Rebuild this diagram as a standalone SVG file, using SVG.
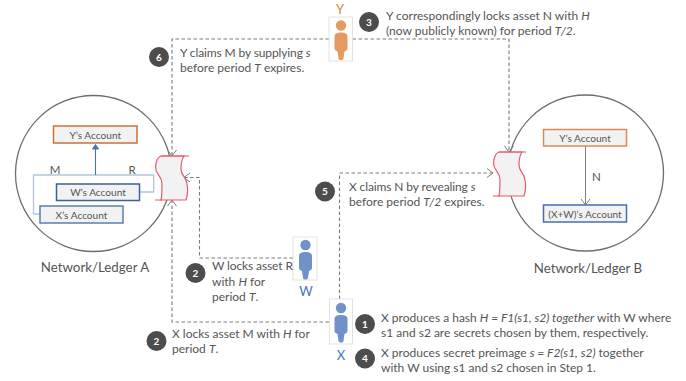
<svg xmlns="http://www.w3.org/2000/svg" width="686" height="381" viewBox="0 0 686 381">
<style>
text{font-family:"Lato","Carlito","Liberation Sans",sans-serif;fill:#555;font-size:12px}
.i{font-style:italic}
.c{text-anchor:middle}
.t{letter-spacing:-.12px}
.net{fill:#fff;stroke:#6e6e6e;stroke-width:1.3}
.acc{fill:#f2f2f2;stroke-width:1.5}
.or{stroke:#c8713a}.bl{stroke:#3f6098}
.d{fill:none;stroke:#7a7a7a;stroke-width:1.1;stroke-dasharray:3.5 2.5}
.ar{fill:none;stroke:#7f7f7f;stroke-width:1}
.scroll{fill:#f2f2f2;stroke:#e8596a;stroke-width:1.2}
.pb{fill:#fff;stroke:#dcdcdc;stroke-width:.8}
.badge{fill:#4d4d4d}
.bt{fill:#fff;font-size:10px;font-weight:700;text-anchor:middle}
.pbl{fill:#7092c8}.por{fill:#e59a63}
.acct{font-size:10.100px}
.net-t{font-size:13.300px}
.lt{font-size:11.500px}
</style>
<defs>
<g id="person"><circle cx="0" cy="0" r="5.2"/><path d="M-6.500 11C-6.500 8 -4 7 0 7C4 7 6.500 8 6.500 11V23C6.500 25 4.500 25.500 3.500 26L2.500 33C2 35 -2 35 -2.500 33L-3.500 26C-4.500 25.500 -6.500 25 -6.500 23Z"/></g>
<path id="sc" d="M6 0C1 2 0 10 1 14C2 19 7 20 7 28C7 36 7 40 6 44H31C33 38 33 33 32 28C31 20 26 20 26 13C26 7 27 3 29 0Z"/>
</defs>
<g id="network-a"><circle class="net" cx="93.500" cy="173.500" r="78"/><text x="95" y="272" class="c net-t">Network/Ledger A</text></g>
<g id="network-b"><circle class="net" cx="585.500" cy="173" r="78"/><text x="588" y="273" class="c net-t">Network/Ledger B</text></g>
<g id="connectors">
<path d="M33.500 214V175H153.700V192H139.500M33.500 214H40" fill="none" stroke="#b4c3de" stroke-width="1.300"/>
<path d="M95.500 175V147" fill="none" stroke="#4472c4" stroke-width="1.100"/><path d="M92.500 149L95.500 144.500L98.500 149Z" fill="#4472c4" stroke="#4472c4"/>
<path d="M585.500 146V204" class="ar"/><path d="M581 199L585.500 205L590 199" class="ar"/>
<path class="d" d="M329 39H172V155"/><path class="ar" d="M167.500 150L172 156L176.500 150"/>
<path class="d" d="M352.500 39H509V151"/><path class="ar" d="M504.500 146L509 152L513.500 146"/>
<path class="d" d="M329 322H172V201"/><path class="ar" d="M167.500 206L172 200L176.500 206"/>
<path class="d" d="M293 258H199.500V177.500H185"/><path class="ar" d="M190 173L184 177.500L190 182"/>
<path class="d" d="M339.500 299V173H493"/><path class="ar" d="M487 168.500L493 173L487 177.500"/>
</g>
<g id="account-y-a"><rect class="acc or" x="53.500" y="126" width="83.500" height="17"/><text x="95.300" y="138.500" class="c acct">Y’s Account</text></g>
<g id="account-w-a"><rect class="acc bl" x="56.500" y="184" width="83" height="16.500"/><text x="98" y="196" class="c acct">W’s Account</text></g>
<g id="account-x-a"><rect class="acc bl" x="40" y="206" width="83" height="17" style="stroke:#5b7db5"/><text x="81.500" y="218.500" class="c acct">X’s Account</text></g>
<text x="55" y="174" class="c lt">M</text><text x="132" y="173.500" class="c lt">R</text>
<g id="account-y-b"><rect class="acc or" x="543.500" y="129.500" width="83" height="16.500" style="stroke:#d98a55"/><text x="585" y="141.500" class="c acct">Y’s Account</text></g>
<g id="account-xw-b"><rect class="acc bl" x="543.500" y="205" width="83" height="17" style="stroke:#4a6ea8"/><text x="585" y="217.500" class="c acct">(X+W)’s Account</text></g>
<text x="596.500" y="181" class="c lt">N</text>
<g id="contract-a"><use href="#sc" class="scroll" x="155" y="156"/><path class="scroll" style="fill:none" d="M161 156H189M155 200H162"/></g>
<g id="contract-b"><use href="#sc" class="scroll" x="493" y="152"/><path class="scroll" style="fill:none" d="M499 152H526M493 196H500"/></g>
<g id="y"><rect class="pb" x="329" y="17" width="23.500" height="44"/><use href="#person" class="por" x="341" y="25.500"/><text x="340" y="13.500" class="c" style="font-size:13px;fill:#dd8344">Y</text></g>
<g id="w"><rect class="pb" x="293" y="237" width="24" height="43"/><use href="#person" class="pbl" x="305.500" y="245"/><text x="306" y="296" class="c" style="font-size:13px;fill:#4472c4">W</text></g>
<g id="x"><rect class="pb" x="329.500" y="299" width="23" height="45"/><use href="#person" class="pbl" x="341" y="308"/><text x="341" y="360" class="c" style="font-size:13px;fill:#4472c4">X</text></g>
<g id="step-6"><circle class="badge" cx="159" cy="57" r="10"/><text class="bt" x="159" y="60.500">6</text><text class="t" x="180" y="56.500">Y claims M by supplying <tspan class="i">s</tspan></text><text x="180" y="71.500">before period <tspan class="i">T</tspan> expires.</text></g>
<g id="step-3"><circle class="badge" cx="369" cy="22" r="10"/><text class="bt" x="369" y="25.500">3</text><text x="386" y="20">Y correspondingly locks asset N with <tspan class="i">H</tspan></text><text x="386" y="35">(now publicly known) for period <tspan class="i">T/2</tspan>.</text></g>
<g id="step-5"><circle class="badge" cx="325" cy="191.500" r="10"/><text class="bt" x="325" y="195">5</text><text class="t" x="349" y="190.500">X claims N by revealing <tspan class="i">s</tspan></text><text x="349" y="205.500">before period <tspan class="i">T/2</tspan> expires.</text></g>
<g id="step-2w"><circle class="badge" cx="195.500" cy="273" r="10"/><text class="bt" x="195.500" y="276.500">2</text><text class="t" x="212" y="270">W locks asset R</text><text x="212" y="285.500">with <tspan class="i">H</tspan> for</text><text x="212" y="301">period <tspan class="i">T</tspan>.</text></g>
<g id="step-2x"><circle class="badge" cx="156.500" cy="341" r="10"/><text class="bt" x="156.500" y="344.500">2</text><text x="172" y="338">X locks asset M with <tspan class="i">H</tspan> for</text><text x="172" y="353">period <tspan class="i">T</tspan>.</text></g>
<g id="step-1"><circle class="badge" cx="365" cy="324" r="10"/><text class="bt" x="365" y="327.500">1</text><text x="381" y="322">X produces a hash <tspan class="i">H = F1(s1, s2) together</tspan> with W where</text><text x="381" y="337">s1 and s2 are secrets chosen by them, respectively.</text></g>
<g id="step-4"><circle class="badge" cx="365" cy="358.500" r="10"/><text class="bt" x="365" y="362">4</text><text x="381" y="357">X produces secret preimage <tspan class="i">s = F2(s1, s2)</tspan> together</text><text x="381" y="372">with W using s1 and s2 chosen in Step 1.</text></g>
</svg>
